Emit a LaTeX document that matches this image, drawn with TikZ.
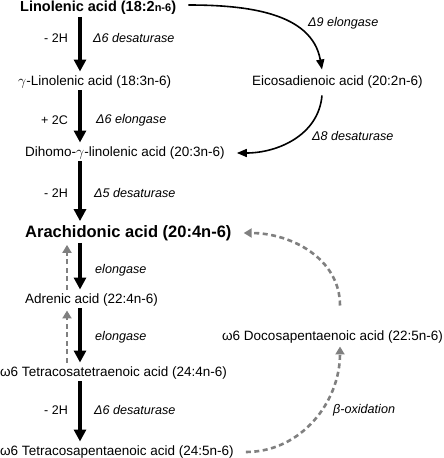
\documentclass[tikz,border=0pt]{standalone}
\usepackage{fontspec}
\setmainfont{Liberation Sans}
\usetikzlibrary{arrows.meta}
\begin{document}
\begin{tikzpicture}[x=1pt,y=1pt,
  acid/.style={anchor=west,inner sep=0pt,font=\fontsize{13.5}{15}\selectfont},
  bigacid/.style={anchor=west,inner sep=0pt,font=\fontsize{16.5}{18}\selectfont\bfseries},
  lbl/.style={anchor=west,inner sep=0pt,font=\fontsize{12.6}{14}\selectfont\itshape},
  side/.style={anchor=east,inner sep=0pt,font=\fontsize{12.5}{14}\selectfont},
  conv/.style={line width=3.4pt,-{Triangle[length=12pt,width=12pt]},shorten <=2pt,shorten >=4pt},
  curv/.style={line width=1.6pt,-{Triangle[length=10pt,width=8pt]}},
  back/.style={line width=2.6pt,color=black!50,dash pattern=on 5pt off 3.5pt,-{Triangle[length=8pt,width=9pt]}}]
\useasboundingbox (0,0) rectangle (444,-458);
\coordinate (vx) at (80,0);
\coordinate (dx) at (67,0);
% acids
\node[acid,font=\fontsize{14.5}{16}\selectfont\bfseries] (lin) at (20,-8) {Linolenic acid (18:2{\fontsize{11}{12}\selectfont n-6})};
\node[acid] (gla) at (18,-82) {$\gamma$-Linolenic acid (18:3n-6)};
\node[acid] (eico) at (252,-82) {Eicosadienoic acid (20:2n-6)};
\node[acid] (dgla) at (25,-153) {Dihomo-$\gamma$-linolenic acid (20:3n-6)};
\node[bigacid] (ara) at (25,-233) {Arachidonic acid (20:4n-6)};
\node[acid] (adr) at (25,-300) {Adrenic acid (22:4n-6)};
\node[acid] (dpa) at (222,-337) {ω6 Docosapentaenoic acid (22:5n-6)};
\node[acid] (tta) at (0,-373) {ω6 Tetracosatetraenoic acid (24:4n-6)};
\node[acid] (tpa) at (0,-452) {ω6 Tetracosapentaenoic acid (24:5n-6)};
% labels
\node[side] (s1) at (68,-38) {- 2H};
\node[lbl] (l1) at (93,-38) {Δ6 desaturase};
\node[side] (s2) at (68,-120) {+ 2C};
\node[lbl] (l2) at (96,-120) {Δ6 elongase};
\node[side] (s3) at (68,-193) {- 2H};
\node[lbl] (l3) at (94,-193) {Δ5 desaturase};
\node[lbl] (l4) at (95,-270) {elongase};
\node[lbl] (l5) at (95,-337) {elongase};
\node[side] (s6) at (68,-410) {- 2H};
\node[lbl] (l6) at (94,-410) {Δ6 desaturase};
\node[lbl] (l9) at (308,-23) {Δ9 elongase};
\node[lbl] (l8) at (312,-136) {Δ8 desaturase};
\node[lbl] (lb) at (333,-410) {β-oxidation};
% main vertical arrows
\draw[conv] (lin.south -| vx) -- (gla.north -| vx);
\draw[conv] (gla.south -| vx) -- (dgla.north -| vx);
\draw[conv] (dgla.south -| vx) -- (ara.north -| vx);
\draw[conv] (ara.south -| vx) -- (adr.north -| vx);
\draw[conv] (adr.south -| vx) -- (tta.north -| vx);
\draw[conv] (tta.south -| vx) -- (tpa.north -| vx);
% side branch
\coordinate (ex) at (322,0);
\draw[curv] ([xshift=12pt,yshift=3pt]lin.east) to[out=0,in=100] ([yshift=6pt]eico.north -| ex);
\draw[curv] ([yshift=-7pt]eico.south -| ex) to[out=-95,in=0] ([xshift=12pt]dgla.east);
% retroconversion
\coordinate (bx) at (340,0);
\draw[back] ([yshift=25pt]dpa.north -| bx) to[out=90,in=0] ([xshift=12pt]ara.east);
\draw[back] ([xshift=12pt]tpa.east) to[out=0,in=-90] ([yshift=-3pt]dpa.south -| bx);
\draw[back,shorten <=4pt,shorten >=4pt] (adr.north -| dx) -- (ara.south -| dx);
\draw[back,shorten <=4pt,shorten >=4pt] (tta.north -| dx) -- (adr.south -| dx);
\end{tikzpicture}
\end{document}
